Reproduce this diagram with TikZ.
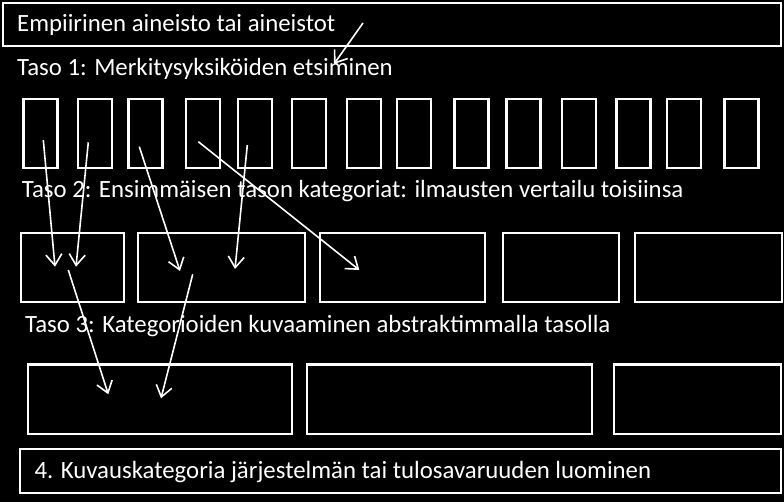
\documentclass[tikz,border=0pt]{standalone}
\usepackage{fontspec}
\setmainfont{Carlito}
\usetikzlibrary{arrows.meta}
\begin{document}
\begin{tikzpicture}[x=1pt,y=-1pt,
  box/.style={draw=white,line width=2.2pt,inner sep=0pt,outer sep=0pt,fill=black},
  lbl/.style={text=white,font=\fontsize{24.8}{29}\selectfont,anchor=base west,inner sep=0pt},
  arr/.style={draw=white,line width=1.6pt,-{Straight Barb[length=11pt,width=16pt,line width=1.6pt]}}]
\fill[black] (0,0) rectangle (784,502);
\useasboundingbox (0,0) rectangle (784,502);
% top box
\node[box,minimum width=778pt,minimum height=42.7pt] (top) at (392,24.3) {};
\node[lbl] (ttop) at (17,32) {Empiirinen aineisto tai aineistot};
% level 1
\node[lbl] (t1) at (17,76) {Taso 1: Merkitysyksiköiden etsiminen};
\foreach \i/\cx in {1/40.5,2/95,3/145.5,4/203.3,5/255,6/309,7/363.7,8/413.7,9/471.5,10/523.5,11/579,12/633.5,13/683.7,14/741.5}
  \node[box,minimum width=34pt,minimum height=69pt] (u\i) at (\cx,133.5) {};
% level 2
\node[lbl] (t2) at (21.7,198) {Taso 2: Ensimmäisen tason kategoriat: ilmausten vertailu toisiinsa};
\node[box,minimum width=103pt,minimum height=69pt] (c1) at (72.7,267.2) {};
\node[box,minimum width=167pt,minimum height=69pt] (c2) at (221.3,267.2) {};
\node[box,minimum width=165pt,minimum height=69pt] (c3) at (402.8,267.2) {};
\node[box,minimum width=116pt,minimum height=69pt] (c4) at (560.8,267.2) {};
\node[box,minimum width=147pt,minimum height=69pt] (c5) at (708.5,267.2) {};
% level 3
\node[lbl] (t3) at (25,333) {Taso 3: Kategorioiden kuvaaminen abstraktimmalla tasolla};
\node[box,minimum width=264.5pt,minimum height=69.5pt] (d1) at (160,399.2) {};
\node[box,minimum width=285.5pt,minimum height=69.5pt] (d2) at (449.5,399.2) {};
\node[box,minimum width=167.5pt,minimum height=69.5pt] (d3) at (697.5,399.2) {};
% level 4
\node[box,minimum width=761pt,minimum height=43.7pt] (bot) at (400.5,471.2) {};
\node[lbl] (t4) at (34.3,478.3) {4. Kuvauskategoria järjestelmän tai tulosavaruuden luominen};
% arrow end points
\coordinate (s0) at (363,23);   \coordinate (e0) at (334,64);
\coordinate (s1) at (43.3,140); \coordinate (e1) at (55,266.7);
\coordinate (s2) at (88.3,142.3); \coordinate (e2) at (76,266.7);
\coordinate (s3) at (139.3,146.7); \coordinate (e3) at (180,271);
\coordinate (s4) at (198.3,141.7); \coordinate (e4) at (359.3,270);
\coordinate (s5) at (247.3,145); \coordinate (e5) at (235,269);
\coordinate (s6) at (68.3,270); \coordinate (e6) at (108.3,394.3);
\coordinate (s7) at (192.7,274.3); \coordinate (e7) at (161,398.3);
\foreach \k in {0,...,7} \draw[arr] (s\k) -- (e\k);
\end{tikzpicture}
\end{document}
